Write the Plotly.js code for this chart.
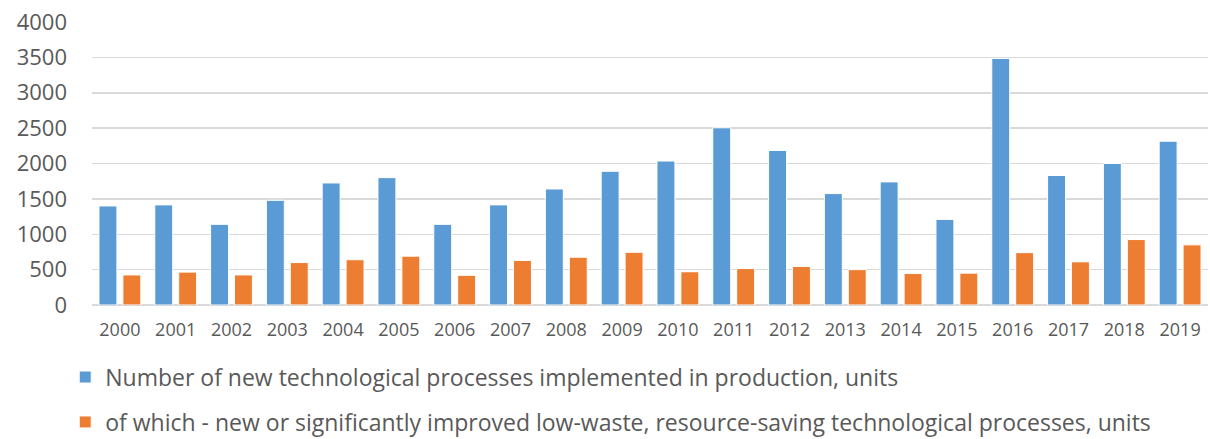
<!DOCTYPE html>
<html>
<head>
<meta charset="utf-8">
<script src="https://cdn.plot.ly/plotly-3.0.1.min.js"></script>
<style>html,body{margin:0;padding:0;background:#fff;}#chart{width:1210px;height:439px;}</style>
</head>
<body>
<div id="chart"></div>
<script>
const years = ["2000","2001","2002","2003","2004","2005","2006","2007","2008","2009","2010","2011","2012","2013","2014","2015","2016","2017","2018","2019"];
const newProcesses = [1400,1415,1140,1480,1725,1800,1140,1415,1640,1890,2035,2505,2185,1575,1740,1210,3485,1830,2000,2315];
const lowWaste = [425,465,425,600,640,690,420,630,675,745,470,515,545,500,445,450,740,610,925,850];
const seriesNames = [
  "Number of new technological processes implemented in production, units",
  "of which - new or significantly improved low-waste, resource-saving technological processes, units"
];
const textColor = "#595959";
const fontFam = "'Open Sans', 'DejaVu Sans', sans-serif";

const traces = [
  {type:"bar", x:years, y:newProcesses, name:seriesNames[0], legendgroup:"a",
   marker:{color:"#5B9BD5", line:{color:"#ffffff", width:1}}},
  {type:"bar", x:years, y:lowWaste, name:seriesNames[1], legendgroup:"b",
   marker:{color:"#ED7D31", line:{color:"#ffffff", width:1}}}
];

const layout = {
  width:1210, height:439,
  margin:{l:92, r:2, t:22, b:134, autoexpand:false},
  paper_bgcolor:"#ffffff", plot_bgcolor:"#ffffff",
  barmode:"group", bargap:0.143, bargroupgap:0.25,
  font:{family:fontFam, color:textColor},
  xaxis:{type:"category", tickfont:{size:18, color:textColor}, ticks:"", showgrid:false,
         showline:false, zeroline:false, ticklabelstandoff:12},
  yaxis:{range:[0,4000], dtick:500, tickfont:{size:22, color:textColor}, showgrid:true,
         gridcolor:"#d9d9d9", gridwidth:1.5, zeroline:true, zerolinecolor:"#d9d9d9", zerolinewidth:1.5,
         showline:false, ticks:"", ticklabelstandoff:24},
  showlegend:true,
  legend:{orientation:"v", x:-0.024, xanchor:"left", yref:"container", y:0.19, yanchor:"top",
          traceorder:"grouped", tracegroupgap:12, font:{size:23, color:textColor},
          itemwidth:30, bgcolor:"rgba(0,0,0,0)"}
};

Plotly.newPlot("chart", traces, layout, {displayModeBar:false, staticPlot:true});
</script>
</body>
</html>
